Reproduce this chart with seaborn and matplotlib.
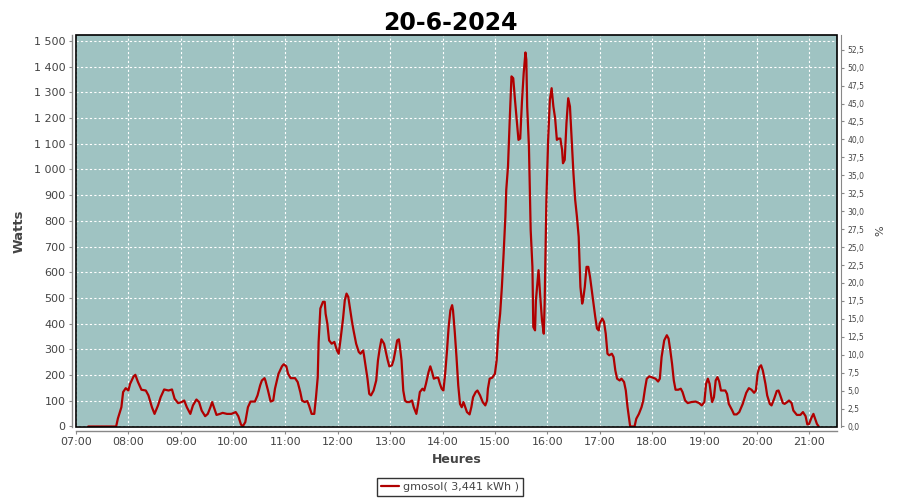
import pandas as pd
import matplotlib
matplotlib.use("Agg")
import matplotlib.pyplot as plt
import matplotlib.dates as mdates
from matplotlib.patches import Rectangle
from matplotlib.ticker import FuncFormatter, MultipleLocator
import seaborn as sns

# ── Data ──────────────────────────────────────────────────────────────────────
DAY = "2024-06-20"
TITLE = "20-6-2024"
SERIES_LABEL = "gmosol( 3,441 kWh )"

times = [
    "07:14", "07:46", "07:48", "07:52", "07:54", "07:57", "08:00", "08:02", "08:06", "08:08",
    "08:11", "08:15", "08:20", "08:23", "08:27", "08:30", "08:34", "08:37", "08:41", "08:46",
    "08:50", "08:53", "08:57", "09:01", "09:04", "09:07", "09:11", "09:14", "09:18", "09:21",
    "09:24", "09:28", "09:31", "09:34", "09:36", "09:38", "09:41", "09:45", "09:48", "09:53",
    "09:58", "10:03", "10:06", "10:09", "10:11", "10:14", "10:16", "10:17", "10:20", "10:25",
    "10:28", "10:31", "10:33", "10:36", "10:37", "10:40", "10:43", "10:46", "10:48", "10:52",
    "10:56", "10:58", "11:01", "11:03", "11:06", "11:11", "11:14", "11:17", "11:19", "11:22",
    "11:25", "11:27", "11:30", "11:33", "11:35", "11:37", "11:38", "11:40", "11:43", "11:45",
    "11:46", "11:48", "11:50", "11:53", "11:56", "11:59", "12:01", "12:03", "12:06", "12:08",
    "12:10", "12:12", "12:14", "12:16", "12:18", "12:21", "12:24", "12:26", "12:29", "12:30",
    "12:32", "12:34", "12:36", "12:38", "12:41", "12:44", "12:46", "12:48", "12:50", "12:53",
    "12:55", "12:57", "12:59", "13:02", "13:04", "13:06", "13:08", "13:10", "13:11", "13:13",
    "13:15", "13:17", "13:19", "13:22", "13:25", "13:27", "13:30", "13:32", "13:34", "13:37",
    "13:39", "13:41", "13:44", "13:46", "13:48", "13:50", "13:53", "13:55", "13:57", "13:59",
    "14:01", "14:03", "14:05", "14:07", "14:09", "14:11", "14:12", "14:14", "14:16", "14:18",
    "14:20", "14:22", "14:24", "14:26", "14:28", "14:31", "14:33", "14:35", "14:38", "14:40",
    "14:43", "14:46", "14:49", "14:51", "14:52", "14:54", "14:57", "15:00", "15:02", "15:04",
    "15:06", "15:08", "15:10", "15:12", "15:13", "15:15", "15:17", "15:19", "15:21", "15:23",
    "15:25", "15:27", "15:29", "15:31", "15:33", "15:35", "15:36", "15:37", "15:39", "15:40",
    "15:41", "15:43", "15:44", "15:46", "15:47", "15:50", "15:52", "15:54", "15:56", "15:57",
    "15:59", "16:01", "16:03", "16:05", "16:07", "16:09", "16:11", "16:13", "16:15", "16:17",
    "16:18", "16:20", "16:22", "16:24", "16:26", "16:28", "16:30", "16:32", "16:34", "16:36",
    "16:38", "16:40", "16:41", "16:43", "16:45", "16:47", "16:49", "16:51", "16:53", "16:55",
    "16:57", "16:59", "17:00", "17:03", "17:05", "17:07", "17:09", "17:11", "17:14", "17:16",
    "17:18", "17:20", "17:23", "17:25", "17:28", "17:30", "17:32", "17:34", "17:35", "17:40",
    "17:42", "17:45", "17:48", "17:50", "17:52", "17:54", "17:57", "18:01", "18:04", "18:07",
    "18:09", "18:11", "18:14", "18:17", "18:19", "18:21", "18:23", "18:25", "18:27", "18:30",
    "18:33", "18:35", "18:38", "18:41", "18:45", "18:50", "18:54", "18:57", "19:00", "19:02",
    "19:04", "19:06", "19:08", "19:09", "19:11", "19:13", "19:15", "19:17", "19:19", "19:22",
    "19:24", "19:26", "19:28", "19:32", "19:34", "19:37", "19:40", "19:44", "19:48", "19:51",
    "19:54", "19:57", "19:59", "20:01", "20:03", "20:05", "20:07", "20:10", "20:12", "20:15",
    "20:17", "20:20", "20:23", "20:25", "20:27", "20:30", "20:32", "20:35", "20:37", "20:40",
    "20:42", "20:46", "20:50", "20:53", "20:56", "20:58", "21:00", "21:03", "21:05", "21:07",
    "21:09", "21:11",
]

watts = [
    0, 0, 31, 75, 134, 149, 140, 166, 195, 201,
    173, 143, 140, 121, 75, 49, 82, 114, 144, 140,
    144, 108, 91, 95, 101, 75, 49, 82, 105, 95,
    62, 40, 49, 75, 95, 75, 45, 49, 53, 49,
    49, 56, 40, 8, 0, 17, 56, 75, 97, 97,
    121, 160, 179, 188, 179, 140, 97, 101, 147, 205,
    234, 242, 234, 205, 188, 188, 173, 134, 101, 95,
    99, 82, 49, 49, 114, 192, 329, 459, 485, 485,
    439, 400, 335, 322, 329, 296, 283, 335, 420, 491,
    517, 504, 459, 413, 374, 322, 290, 283, 296, 277,
    231, 186, 127, 121, 140, 179, 257, 303, 339, 322,
    290, 260, 234, 238, 260, 296, 335, 339, 316, 257,
    140, 101, 95, 95, 101, 75, 49, 88, 134, 147,
    140, 166, 212, 234, 212, 186, 190, 190, 166, 147,
    140, 205, 290, 387, 452, 472, 452, 368, 270, 160,
    88, 75, 95, 75, 56, 47, 75, 114, 134, 140,
    121, 95, 82, 101, 147, 186, 190, 205, 257, 374,
    439, 543, 673, 816, 920, 1011, 1193, 1362, 1355, 1271,
    1193, 1115, 1120, 1264, 1375, 1455, 1427, 1245, 1089, 920,
    764, 621, 387, 374, 491, 608, 504, 413, 361, 478,
    881, 1115, 1271, 1316, 1245, 1199, 1115, 1120, 1120, 1076,
    1024, 1037, 1180, 1277, 1245, 1115, 985, 881, 816, 738,
    543, 478, 491, 543, 621, 621, 582, 530, 478, 426,
    381, 374, 400, 420, 407, 361, 283, 277, 283, 270,
    218, 186, 179, 186, 173, 140, 75, 23, 0, 0,
    30, 49, 75, 101, 147, 186, 195, 190, 186, 175,
    186, 270, 335, 355, 342, 296, 244, 179, 143, 143,
    147, 134, 101, 91, 95, 97, 91, 82, 95, 166,
    186, 166, 114, 95, 114, 179, 192, 175, 140, 140,
    140, 127, 88, 62, 47, 47, 56, 88, 131, 149,
    143, 131, 140, 205, 231, 238, 218, 166, 121, 88,
    82, 108, 138, 140, 121, 91, 88, 95, 101, 91,
    62, 45, 45, 56, 40, 8, 10, 36, 49, 30,
    10, 0,
]

# ── Style ─────────────────────────────────────────────────────────────────────
PLOT_BG    = "#9fc3c2"
LINE_COLOR = "#b00000"
AXIS_GRAY  = "#888888"
TEXT_GRAY  = "#444444"
W_MAX      = 1523
W_PER_PCT  = 27.92   # right axis: 1 % = 27.92 W

sns.set_style("white")
plt.rcParams['font.family'] = ['DejaVu Sans']

df = pd.DataFrame({
    "time": pd.to_datetime([f"{DAY} {t}" for t in times]),
    "watts": watts,
})

fig = plt.figure(figsize=(9, 5), dpi=100)
ax = fig.add_axes([76 / 900, 1 - 427 / 500, (837 - 76) / 900, (427 - 35) / 500])
ax.set_facecolor(PLOT_BG)

sns.lineplot(data=df, x="time", y="watts", ax=ax, color=LINE_COLOR,
             linewidth=1.6, label=SERIES_LABEL, legend=False)

# ── Axes ──────────────────────────────────────────────────────────────────────
ax.set_xlim(pd.Timestamp(f"{DAY} 07:00"), pd.Timestamp(f"{DAY} 21:32"))
ax.set_ylim(-2, W_MAX)
ax.xaxis.set_major_locator(mdates.HourLocator())
ax.xaxis.set_major_formatter(mdates.DateFormatter("%H:%M"))
ax.yaxis.set_major_locator(MultipleLocator(100))
ax.yaxis.set_major_formatter(FuncFormatter(lambda v, p: f"{int(v):,}".replace(",", " ")))

ax.grid(True, color="white", linestyle=(0, (2, 2)), linewidth=0.8)
ax.set_axisbelow(True)

for side in ["left", "bottom"]:
    ax.spines[side].set_position(("outward", 3))
    ax.spines[side].set_color(AXIS_GRAY)
    ax.spines[side].set_linewidth(1)
for side in ["top", "right"]:
    ax.spines[side].set_visible(False)

ax.tick_params(axis="both", direction="out", length=2.5, width=0.8,
               color=AXIS_GRAY, labelcolor=TEXT_GRAY, labelsize=8, pad=2)
ax.tick_params(axis="y", left=True)
ax.tick_params(axis="x", bottom=True)

ax.set_xlabel("Heures", fontsize=9, fontweight="bold", color=TEXT_GRAY, labelpad=4)
ax.set_ylabel("Watts", fontsize=9.5, fontweight="bold", color=TEXT_GRAY, labelpad=6)

# black frame around the plot area
ax.add_patch(Rectangle((0, 0), 1, 1, transform=ax.transAxes, fill=False,
                       edgecolor="black", linewidth=1.2, zorder=5, clip_on=False))

# right axis in %
ax2 = ax.twinx()
ax2.set_ylim(-2 / W_PER_PCT, W_MAX / W_PER_PCT)
ax2.yaxis.set_major_locator(MultipleLocator(2.5))
ax2.yaxis.set_major_formatter(FuncFormatter(lambda v, p: f"{v:.1f}".replace(".", ",")))
for side in ["left", "bottom", "top"]:
    ax2.spines[side].set_visible(False)
ax2.spines["right"].set_position(("outward", 3))
ax2.spines["right"].set_color(AXIS_GRAY)
ax2.tick_params(axis="y", direction="out", length=2.5, width=0.8, right=True,
                color=AXIS_GRAY, labelcolor=TEXT_GRAY, labelsize=5.5, pad=2)
ax2.grid(False)
ax2.set_ylabel("%", fontsize=8, color=TEXT_GRAY, labelpad=8)

fig.suptitle(TITLE, x=0.5, y=0.977, fontsize=17, fontweight="bold", color="black")

# ── Legend ────────────────────────────────────────────────────────────────────
handles, labels = ax.get_legend_handles_labels()
leg = fig.legend(handles, labels, loc="center", bbox_to_anchor=(450 / 900, 1 - 487 / 500),
                 fontsize=8, frameon=True, fancybox=False, edgecolor="black",
                 handlelength=1.6, handletextpad=0.4, borderpad=0.35, borderaxespad=0)
leg.get_frame().set_linewidth(1)
for t in leg.get_texts():
    t.set_color(TEXT_GRAY)

fig.savefig("out.png", dpi=100)
